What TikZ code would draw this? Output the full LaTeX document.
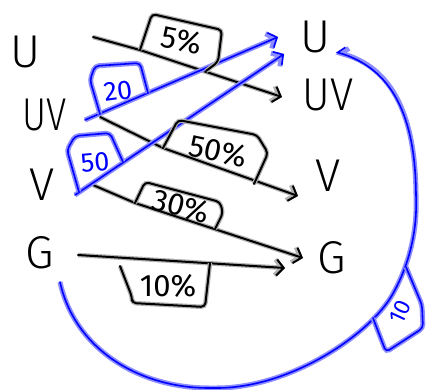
\documentclass[tikz,border=0pt]{standalone}
\usepackage{fontspec}
\setmainfont{Fira Sans}
\newfontfamily\lightf{Fira Sans}[UprightFont=* Light]
\usetikzlibrary{arrows.meta}
\begin{document}
\begin{tikzpicture}[x=1pt,y=-1pt,
  blk/.style={line width=2pt, black, line cap=round, line join=round, rounded corners=4pt,
    preaction={draw=black!30, line width=4.5pt}},
  blu/.style={line width=1.6pt, blue, line cap=round, line join=round, rounded corners=4pt,
    preaction={draw=blue!45, line width=5pt}},
  tip/.style={-{Straight Barb[length=7pt,width=16pt]}},
  lbl/.style={font=\lightf\fontsize{46}{46}\selectfont, inner sep=0pt},
  pct/.style={font=\fontsize{31}{31}\selectfont, inner sep=0pt},
  bnum/.style={font=\fontsize{27}{27}\selectfont, text=blue, inner sep=0pt}]
\useasboundingbox (0,0) rectangle (426,390);
% state labels
\node[lbl] (lU) at (25,52) {U};
\node[lbl,xscale=0.8] (lUV) at (45,115) {UV};
\node[lbl] (lV) at (42,185) {V};
\node[lbl] (lG) at (40,253) {G};
\node[lbl] (rU) at (315,37) {U};
\node[lbl,xscale=0.92] (rUV) at (328,95) {UV};
\node[lbl] (rV) at (328,176) {V};
\node[lbl] (rG) at (332,258) {G};
% connector end points
\coordinate (a1s) at (93,37);   \coordinate (a1m) at (140,50);  \coordinate (a1e) at (282,97);
\coordinate (a2s) at (100,117); \coordinate (a2m) at (163,148); \coordinate (a2e) at (298,196);
\coordinate (a3s) at (93,185);  \coordinate (a3m) at (135,203); \coordinate (a3e) at (303,258);
\coordinate (a4s) at (78,255);  \coordinate (a4e) at (285,268);
\coordinate (b1s) at (85,120);  \coordinate (b1e) at (278,37);
\coordinate (b2s) at (75,195);  \coordinate (b2e) at (284,54);
\coordinate (b3s) at (60,282);  \coordinate (b3e) at (336,52);
% black arrows
\draw[blk,tip] (a1s) -- (a1m) -- (a1e);
\draw[blk,tip] (a2s) -- (a2m) -- (a2e);
\draw[blk,tip] (a3s) -- (a3m) -- (a3e);
\draw[blk,tip] (a4s) -- (a4e);
% blue arrows
\draw[blu,tip] (b1s) -- (b1e);
\draw[blu,tip] (b2s) -- (b2e);
\draw[blu,-{Straight Barb[right,length=6pt,width=14pt]}] (b3s)
  .. controls (75,350) and (140,388) .. (213,388)
  .. controls (290,388) and (370,335) .. (395,290)
  .. controls (410,260) and (417,230) .. (416,195)
  .. controls (415,130) and (400,70) .. (b3e);
% black label boxes
\draw[blk] (a1m) -- (152,14) -- (222,30) -- (218,62) -- (206,71);
\draw[blk] (a2m) -- (178,120) -- (257,135) -- (268,153) -- (254,184);
\draw[blk] (a3m) -- (145,182) -- (220,202) -- (223,213) -- (215,229);
\draw[blk] (120,266) -- (132,297) -- (132,303) -- (205,307) -- (210,263);
% blue label boxes
\draw[blu] (100,114) -- (90,80) -- (95,66) -- (140,63) -- (148,93);
\draw[blu] (79,192) -- (67,150) -- (75,136) -- (110,133) -- (123,162);
\draw[blu] (373,318) -- (386,352) -- (400,343) -- (423,328) -- (422,305) -- (406,267);
% label texts
\node[pct, rotate=-12] (t5) at (182,40) {5\%};
\node[pct, rotate=-12] (t50) at (218,151) {50\%};
\node[pct, rotate=-14] (t30) at (181,206) {30\%};
\node[pct] (t10) at (168,286) {10\%};
\node[bnum, rotate=8] (t20) at (118,91) {20};
\node[bnum, rotate=5] (t50b) at (95,162) {50};
\node[bnum, rotate=65, font=\fontsize{23}{23}\selectfont] (t10b) at (400,312) {10};
\end{tikzpicture}
\end{document}
